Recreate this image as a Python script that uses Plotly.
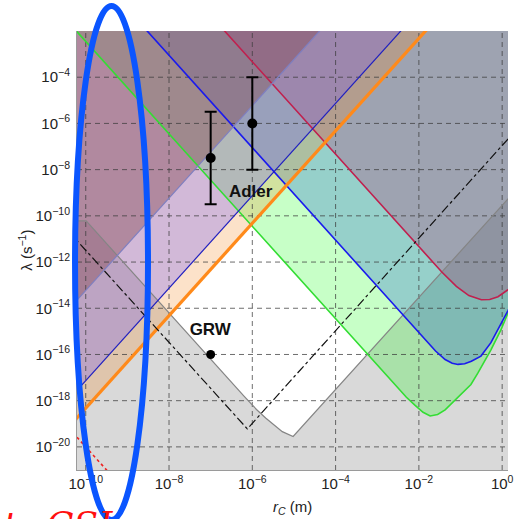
import plotly.graph_objects as go

# ---- axes (log10 units) -------------------------------------------------
X_RANGE = [-10.21, 0.14]
Y_RANGE = [-21.0, -2.0]
X_TICK_EXP = [-10, -8, -6, -4, -2, 0]
Y_TICK_EXP = [-20, -18, -16, -14, -12, -10, -8, -6, -4]
X_TICK_TEXT = ["10<sup>−10</sup>", "10<sup>−8</sup>", "10<sup>−6</sup>",
               "10<sup>−4</sup>", "10<sup>−2</sup>", "10<sup>0</sup>"]
Y_TICK_TEXT = ["10<sup>−20</sup>", "10<sup>−18</sup>", "10<sup>−16</sup>",
               "10<sup>−14</sup>", "10<sup>−12</sup>", "10<sup>−10</sup>",
               "10<sup>−8</sup>", "10<sup>−6</sup>", "10<sup>−4</sup>"]

# ---- bound curves: log10(r_C / m) and log10(lambda / s^-1) ----------------
# theoretical lower bound (excluded below)
LOWER_LOGR = [-11.0, -9.99, -6.2, -5.9, -5.68, -5.45, -5.28, -5.02, 1.0]
LOWER_LOGL = [-10.22, -10.22, -17.8, -18.38, -18.75, -19.1, -19.34, -19.55, -7.55]
# experimental upper bounds (excluded above)
GREEN_LOGR = [-11.0, -2.3, -2.09, -1.9, -1.73, -1.55, -1.37, -1.2, -1.06, -0.9,
              -0.75, -0.585, -0.27, -0.03, 0.14, 0.3]
GREEN_LOGL = [-0.45, -17.85, -18.2, -18.5, -18.66, -18.6, -18.4, -18.1, -17.85,
              -17.6, -17.3, -16.81, -15.8, -14.94, -14.2, -13.4]
BLUE_LOGR = [-11.0, -2.0, -1.6, -1.37, -1.2, -1.06, -0.9, -0.74, -0.51, -0.27,
             -0.03, 0.14, 0.3]
BLUE_LOGL = [2.95, -15.05, -15.85, -16.22, -16.38, -16.43, -16.4, -16.29, -16.07,
             -15.49, -14.71, -14.1, -13.5]
CRIMSON_LOGR = [-11.0, -1.45, -1.1, -0.8, -0.5, -0.3, -0.1, 0.14, 0.3]
CRIMSON_LOGL = [6.67, -12.43, -13.05, -13.45, -13.63, -13.62, -13.5, -13.2, -12.9]
ORANGE_LOGR = [-11.0, 0.0]
ORANGE_LOGL = [-20.32, 1.68]
BLUE_RISE_LOGR = [-12.0, -1.0]
BLUE_RISE_LOGL = [-21.13, 0.87]
VIOLET_RISE_LOGR = [-14.0, -3.0]
VIOLET_RISE_LOGL = [-21.23, 0.77]
# auxiliary curves
DASHDOT_LOGR = [-11.0, -6.12, 1.0]
DASHDOT_LOGL = [-9.5, -19.22, -4.95]
RED_DOT_LOGR = [-10.5, -9.4]
RED_DOT_LOGL = [-19.0, -21.2]

# ---- points ---------------------------------------------------------------
ADLER_R = [1e-7, 1e-6]
ADLER_LAMBDA = [3.2e-8, 1e-6]
ADLER_DECADES = 2
GRW_R = [1e-7]
GRW_LAMBDA = [1e-16]

TOP, BOTTOM = 3.0, -25.0


def pw(vals):
    return [10 ** v for v in vals]


fig = go.Figure()


def region(logr, logl, color, above=True):
    edge = TOP if above else BOTTOM
    xs = logr + [logr[-1], logr[0]]
    ys = logl + [edge, edge]
    fig.add_trace(go.Scatter(x=pw(xs), y=pw(ys), mode="lines", fill="toself",
                             fillcolor=color, line=dict(width=0),
                             hoverinfo="skip", showlegend=False))


def curve(logr, logl, color, width, dash="solid"):
    fig.add_trace(go.Scatter(x=pw(logr), y=pw(logl), mode="lines",
                             line=dict(color=color, width=width, dash=dash),
                             hoverinfo="skip", showlegend=False))


# filled regions, bottom to top
region(LOWER_LOGR, LOWER_LOGL, "rgba(128,128,128,0.30)", above=False)
region(GREEN_LOGR, GREEN_LOGL, "rgba(0,255,0,0.22)")
region(BLUE_LOGR, BLUE_LOGL, "rgba(20,80,210,0.27)")
region(CRIMSON_LOGR, CRIMSON_LOGL, "rgba(180,60,120,0.30)")
region(ORANGE_LOGR, ORANGE_LOGL, "rgba(245,140,40,0.25)")
region(BLUE_RISE_LOGR, BLUE_RISE_LOGL, "rgba(100,80,255,0.28)")
region(VIOLET_RISE_LOGR, VIOLET_RISE_LOGL, "rgba(130,72,82,0.42)")

# dashed grid on top of the shading
ylo, yhi = 10 ** Y_RANGE[0], 10 ** Y_RANGE[1]
xlo, xhi = 10 ** X_RANGE[0], 10 ** X_RANGE[1]
for e in X_TICK_EXP:
    fig.add_trace(go.Scatter(x=[10 ** e, 10 ** e], y=[ylo, yhi], mode="lines",
                             line=dict(color="rgba(60,60,60,0.75)", width=1, dash="5px,4px"),
                             hoverinfo="skip", showlegend=False))
for e in Y_TICK_EXP:
    fig.add_trace(go.Scatter(x=[xlo, xhi], y=[10 ** e, 10 ** e], mode="lines",
                             line=dict(color="rgba(60,60,60,0.75)", width=1, dash="5px,4px"),
                             hoverinfo="skip", showlegend=False))

# boundary lines
curve(LOWER_LOGR, LOWER_LOGL, "#858585", 1.2)
curve(GREEN_LOGR, GREEN_LOGL, "#33dd33", 1.6)
curve(BLUE_LOGR, BLUE_LOGL, "#1a1aee", 1.6)
curve(CRIMSON_LOGR, CRIMSON_LOGL, "#c0204e", 1.6)
curve(VIOLET_RISE_LOGR, VIOLET_RISE_LOGL, "#7f7fc0", 1.2)
curve(BLUE_RISE_LOGR, BLUE_RISE_LOGL, "#2020c0", 1.2)
curve(ORANGE_LOGR, ORANGE_LOGL, "#ff8a1a", 3.2)
curve(DASHDOT_LOGR, DASHDOT_LOGL, "#111111", 1.2, dash="dashdot")
curve(RED_DOT_LOGR, RED_DOT_LOGL, "#ee2222", 1.6, dash="dot")

# Adler values with two-decade error bars
fig.add_trace(go.Scatter(
    x=ADLER_R, y=ADLER_LAMBDA, mode="markers",
    marker=dict(color="black", size=10),
    error_y=dict(type="data", symmetric=False,
                 array=[v * (10 ** ADLER_DECADES - 1) for v in ADLER_LAMBDA],
                 arrayminus=[v * (1 - 10 ** -ADLER_DECADES) for v in ADLER_LAMBDA],
                 color="black", thickness=2, width=6),
    hoverinfo="skip", showlegend=False))
fig.add_trace(go.Scatter(x=GRW_R, y=GRW_LAMBDA, mode="markers",
                         marker=dict(color="black", size=9),
                         hoverinfo="skip", showlegend=False))
fig.add_trace(go.Scatter(
    x=[10 ** -7.01, 10 ** -6.04], y=[10 ** -14.97, 10 ** -9.0],
    mode="text", text=["<b>GRW</b>", "<b>Adler</b>"],
    textfont=dict(family="Liberation Sans", size=17, color="#111111"),
    hoverinfo="skip", showlegend=False))

L, T, B = 77, 31, 49
W, H = 514, 519
pw_w = W - L
ph = H - T - B

fig.update_layout(
    width=W, height=H,
    margin=dict(l=L, r=0, t=T, b=B),
    paper_bgcolor="white", plot_bgcolor="white",
    font=dict(family="Liberation Sans", size=15, color="#222222"),
    xaxis=dict(type="log", range=X_RANGE, showgrid=False, zeroline=False,
               tickvals=pw(X_TICK_EXP), ticktext=X_TICK_TEXT,
               showline=True, linecolor="#9a9a9a", linewidth=1,
               ticks="", ticklabelstandoff=0, ticklabeloverflow="allow"),
    yaxis=dict(type="log", range=Y_RANGE, showgrid=False, zeroline=False,
               tickvals=pw(Y_TICK_EXP), ticktext=Y_TICK_TEXT,
               showline=True, linecolor="#9a9a9a", linewidth=1,
               ticks="", ticklabelstandoff=3),
    annotations=[
        dict(text="<i>r</i><sub><i>C</i></sub> (m)", xref="paper", yref="paper",
             x=(296 - L) / pw_w, y=(H - B - 507) / ph, xanchor="center", yanchor="middle",
             showarrow=False, font=dict(size=15, color="#222222")),
        dict(text="λ (s<sup>−1</sup>)", xref="paper", yref="paper",
             x=(25 - L) / pw_w, y=(H - B - 250) / ph, xanchor="center", yanchor="middle",
             textangle=-90, showarrow=False, font=dict(size=15, color="#222222")),
        dict(text="t.", xref="paper", yref="paper",
             x=(0 - L) / pw_w, y=(H - B - 502) / ph, xanchor="left", yanchor="top",
             showarrow=False,
             font=dict(family="DejaVu Serif", size=36, color="#ff1010", style="italic")),
        dict(text="CSL", xref="paper", yref="paper",
             x=(44 - L) / pw_w, y=(H - B - 502) / ph, xanchor="left", yanchor="top",
             showarrow=False,
             font=dict(family="DejaVu Serif", size=36, color="#ff1010", style="italic")),
    ],
    shapes=[
        dict(type="circle", xref="paper", yref="paper", layer="above",
             x0=(75 - L) / pw_w, x1=(149 - L) / pw_w,
             y0=(H - B - 520) / ph, y1=(H - B - 6) / ph,
             line=dict(color="#0a55ff", width=6)),
    ],
)

fig.write_html("out.html")
